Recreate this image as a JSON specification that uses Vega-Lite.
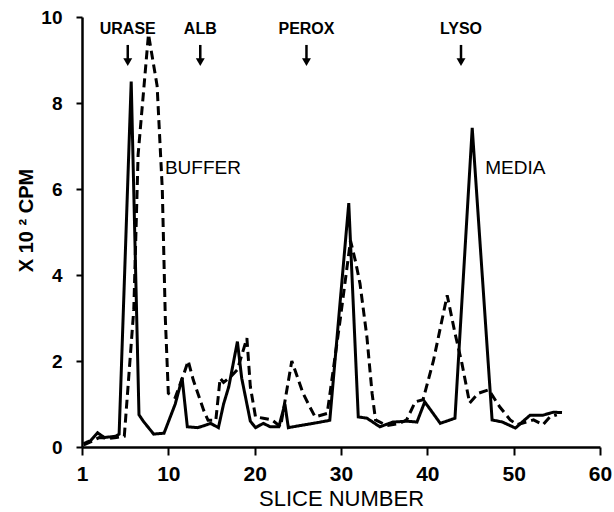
{
  "$schema": "https://vega.github.io/schema/vega-lite/v6.json",
  "autosize": {"type": "none"},
  "width": 518,
  "height": 430,
  "padding": {"left": 82, "top": 17, "right": 14, "bottom": 65},
  "background": "white",
  "config": {
    "view": {"stroke": null},
    "font": "Liberation Sans"
  },
  "datasets": {
    "curves": [
      {"series": "MEDIA", "slice": 0.2, "cpm": 0.08},
      {"series": "MEDIA", "slice": 1, "cpm": 0.15},
      {"series": "MEDIA", "slice": 1.8, "cpm": 0.33},
      {"series": "MEDIA", "slice": 2.6, "cpm": 0.22},
      {"series": "MEDIA", "slice": 3.9, "cpm": 0.25},
      {"series": "MEDIA", "slice": 4.3, "cpm": 0.3},
      {"series": "MEDIA", "slice": 5.7, "cpm": 8.5},
      {"series": "MEDIA", "slice": 6.6, "cpm": 0.75},
      {"series": "MEDIA", "slice": 7.1, "cpm": 0.6},
      {"series": "MEDIA", "slice": 8.3, "cpm": 0.3},
      {"series": "MEDIA", "slice": 9.5, "cpm": 0.32},
      {"series": "MEDIA", "slice": 10.8, "cpm": 1.0},
      {"series": "MEDIA", "slice": 11.6, "cpm": 1.6},
      {"series": "MEDIA", "slice": 12.2, "cpm": 0.47},
      {"series": "MEDIA", "slice": 13.4, "cpm": 0.45},
      {"series": "MEDIA", "slice": 14.2, "cpm": 0.5},
      {"series": "MEDIA", "slice": 14.9, "cpm": 0.55},
      {"series": "MEDIA", "slice": 15.8, "cpm": 0.45},
      {"series": "MEDIA", "slice": 16.4, "cpm": 1.0},
      {"series": "MEDIA", "slice": 17, "cpm": 1.4},
      {"series": "MEDIA", "slice": 18, "cpm": 2.45},
      {"series": "MEDIA", "slice": 18.5, "cpm": 1.6},
      {"series": "MEDIA", "slice": 19.5, "cpm": 0.6},
      {"series": "MEDIA", "slice": 20.1, "cpm": 0.45},
      {"series": "MEDIA", "slice": 21, "cpm": 0.55},
      {"series": "MEDIA", "slice": 21.8, "cpm": 0.47},
      {"series": "MEDIA", "slice": 22.8, "cpm": 0.47},
      {"series": "MEDIA", "slice": 23.5, "cpm": 1.0},
      {"series": "MEDIA", "slice": 23.9, "cpm": 0.45},
      {"series": "MEDIA", "slice": 25.3, "cpm": 0.5},
      {"series": "MEDIA", "slice": 26.8, "cpm": 0.55},
      {"series": "MEDIA", "slice": 28.7, "cpm": 0.62},
      {"series": "MEDIA", "slice": 30.9, "cpm": 5.67},
      {"series": "MEDIA", "slice": 32, "cpm": 0.7},
      {"series": "MEDIA", "slice": 33, "cpm": 0.67},
      {"series": "MEDIA", "slice": 34.5, "cpm": 0.47},
      {"series": "MEDIA", "slice": 36, "cpm": 0.58},
      {"series": "MEDIA", "slice": 37.6, "cpm": 0.6},
      {"series": "MEDIA", "slice": 38.8, "cpm": 0.58},
      {"series": "MEDIA", "slice": 39.7, "cpm": 1.05},
      {"series": "MEDIA", "slice": 41.5, "cpm": 0.55},
      {"series": "MEDIA", "slice": 43.2, "cpm": 0.67},
      {"series": "MEDIA", "slice": 45.2, "cpm": 7.42},
      {"series": "MEDIA", "slice": 47.5, "cpm": 0.63},
      {"series": "MEDIA", "slice": 48.7, "cpm": 0.58},
      {"series": "MEDIA", "slice": 50.2, "cpm": 0.44},
      {"series": "MEDIA", "slice": 51.9, "cpm": 0.74},
      {"series": "MEDIA", "slice": 53.4, "cpm": 0.74},
      {"series": "MEDIA", "slice": 54.6, "cpm": 0.81},
      {"series": "MEDIA", "slice": 55.6, "cpm": 0.8},
      {"series": "BUFFER", "slice": 0.2, "cpm": 0.05},
      {"series": "BUFFER", "slice": 1, "cpm": 0.12},
      {"series": "BUFFER", "slice": 2, "cpm": 0.22},
      {"series": "BUFFER", "slice": 3, "cpm": 0.2},
      {"series": "BUFFER", "slice": 4, "cpm": 0.22},
      {"series": "BUFFER", "slice": 4.9, "cpm": 0.25},
      {"series": "BUFFER", "slice": 6.0, "cpm": 3.2},
      {"series": "BUFFER", "slice": 6.5, "cpm": 6.8},
      {"series": "BUFFER", "slice": 7.7, "cpm": 9.6},
      {"series": "BUFFER", "slice": 8.7, "cpm": 8.4},
      {"series": "BUFFER", "slice": 9.3, "cpm": 6.0},
      {"series": "BUFFER", "slice": 9.65, "cpm": 3.0},
      {"series": "BUFFER", "slice": 10.0, "cpm": 1.25},
      {"series": "BUFFER", "slice": 10.8, "cpm": 1.15},
      {"series": "BUFFER", "slice": 11.8, "cpm": 1.7},
      {"series": "BUFFER", "slice": 12.3, "cpm": 2.0},
      {"series": "BUFFER", "slice": 12.9, "cpm": 1.55},
      {"series": "BUFFER", "slice": 14.1, "cpm": 0.85},
      {"series": "BUFFER", "slice": 14.6, "cpm": 0.62},
      {"series": "BUFFER", "slice": 15.5, "cpm": 0.62},
      {"series": "BUFFER", "slice": 16, "cpm": 1.6},
      {"series": "BUFFER", "slice": 16.4, "cpm": 1.5},
      {"series": "BUFFER", "slice": 17.2, "cpm": 1.63},
      {"series": "BUFFER", "slice": 18, "cpm": 1.8},
      {"series": "BUFFER", "slice": 19.1, "cpm": 2.53},
      {"series": "BUFFER", "slice": 19.5, "cpm": 1.4},
      {"series": "BUFFER", "slice": 20.1, "cpm": 0.7},
      {"series": "BUFFER", "slice": 21, "cpm": 0.67},
      {"series": "BUFFER", "slice": 22, "cpm": 0.63},
      {"series": "BUFFER", "slice": 23, "cpm": 0.47},
      {"series": "BUFFER", "slice": 24.3, "cpm": 2.0},
      {"series": "BUFFER", "slice": 25.6, "cpm": 1.25},
      {"series": "BUFFER", "slice": 26.4, "cpm": 0.93},
      {"series": "BUFFER", "slice": 27, "cpm": 0.7},
      {"series": "BUFFER", "slice": 28.4, "cpm": 0.78},
      {"series": "BUFFER", "slice": 29.9, "cpm": 2.95},
      {"series": "BUFFER", "slice": 31.1, "cpm": 4.8},
      {"series": "BUFFER", "slice": 31.7, "cpm": 4.3},
      {"series": "BUFFER", "slice": 32.2, "cpm": 3.8},
      {"series": "BUFFER", "slice": 33, "cpm": 2.56},
      {"series": "BUFFER", "slice": 33.6, "cpm": 1.25},
      {"series": "BUFFER", "slice": 34, "cpm": 0.63},
      {"series": "BUFFER", "slice": 35.3, "cpm": 0.5},
      {"series": "BUFFER", "slice": 36.8, "cpm": 0.55},
      {"series": "BUFFER", "slice": 37.6, "cpm": 0.63},
      {"series": "BUFFER", "slice": 38.6, "cpm": 1.05},
      {"series": "BUFFER", "slice": 39.5, "cpm": 1.1},
      {"series": "BUFFER", "slice": 40.7, "cpm": 2.0},
      {"series": "BUFFER", "slice": 42.3, "cpm": 3.53},
      {"series": "BUFFER", "slice": 43.2, "cpm": 2.65},
      {"series": "BUFFER", "slice": 44, "cpm": 1.95},
      {"series": "BUFFER", "slice": 44.9, "cpm": 1.02},
      {"series": "BUFFER", "slice": 45.9, "cpm": 1.25},
      {"series": "BUFFER", "slice": 47.1, "cpm": 1.33},
      {"series": "BUFFER", "slice": 48.4, "cpm": 0.93},
      {"series": "BUFFER", "slice": 49.6, "cpm": 0.63},
      {"series": "BUFFER", "slice": 50.4, "cpm": 0.52},
      {"series": "BUFFER", "slice": 52.3, "cpm": 0.63},
      {"series": "BUFFER", "slice": 53.4, "cpm": 0.52},
      {"series": "BUFFER", "slice": 54.2, "cpm": 0.7},
      {"series": "BUFFER", "slice": 55, "cpm": 0.75}
    ],
    "enzymes": [
      {"name": "URASE", "slice": 5.3, "top": 9.35, "bottom": 8.95},
      {"name": "ALB", "slice": 13.7, "top": 9.35, "bottom": 8.95},
      {"name": "PEROX", "slice": 26.0, "top": 9.35, "bottom": 8.95},
      {"name": "LYSO", "slice": 43.9, "top": 9.35, "bottom": 8.95}
    ],
    "names": [
      {"name": "BUFFER", "slice": 9.6, "cpm": 6.5},
      {"name": "MEDIA", "slice": 46.7, "cpm": 6.5}
    ]
  },
  "layer": [
    {
      "data": {"name": "curves"},
      "mark": {"type": "line", "strokeWidth": 3, "color": "black", "strokeJoin": "miter"},
      "encoding": {
        "x": {
          "field": "slice", "type": "quantitative",
          "scale": {"domain": [0, 60], "nice": false, "zero": false},
          "axis": {
            "values": [0, 10, 20, 30, 40, 50, 60],
            "labelExpr": "datum.value == 0 ? '1' : datum.label",
            "grid": false,
            "domainColor": "black", "domainWidth": 2.5,
            "tickColor": "black", "tickWidth": 2, "tickSize": 8,
            "labelColor": "black", "labelFont": "Liberation Sans", "labelFontSize": 21, "labelFontWeight": "bold",
            "labelPadding": 8, "labelFlush": false,
            "title": "SLICE NUMBER", "titleFont": "Liberation Sans", "titleFontSize": 22, "titleFontWeight": "normal",
            "titleColor": "black", "titlePadding": 4
          }
        },
        "y": {
          "field": "cpm", "type": "quantitative",
          "scale": {"domain": [0, 10], "nice": false},
          "axis": {
            "values": [0, 2, 4, 6, 8, 10],
            "grid": false,
            "domainColor": "black", "domainWidth": 2.5,
            "tickColor": "black", "tickWidth": 2, "tickSize": 6,
            "labelColor": "black", "labelFont": "Liberation Sans", "labelFontSize": 19, "labelFontWeight": "bold",
            "labelPadding": 14, "labelFlush": false,
            "title": "X 10 ² CPM", "titleFont": "Liberation Sans", "titleFontSize": 20, "titleFontWeight": "bold",
            "titleColor": "black", "titleX": -56, "titleY": 203, "titleBaseline": "middle", "titleAlign": "center", "titleAngle": 270
          }
        },
        "detail": {"field": "series"},
        "strokeDash": {
          "field": "series", "type": "nominal",
          "scale": {"domain": ["MEDIA", "BUFFER"], "range": [[1, 0], [9, 5]]},
          "legend": null
        }
      }
    },
    {
      "data": {"name": "enzymes"},
      "mark": {"type": "text", "font": "Liberation Sans", "fontSize": 16, "fontWeight": "bold", "color": "black", "baseline": "middle", "align": "center"},
      "encoding": {
        "x": {"field": "slice", "type": "quantitative"},
        "y": {"datum": 9.72, "type": "quantitative"},
        "text": {"field": "name"}
      }
    },
    {
      "data": {"name": "enzymes"},
      "mark": {"type": "rule", "strokeWidth": 2.5, "color": "black"},
      "encoding": {
        "x": {"field": "slice", "type": "quantitative"},
        "y": {"field": "top", "type": "quantitative"},
        "y2": {"field": "bottom"}
      }
    },
    {
      "data": {"name": "enzymes"},
      "mark": {"type": "point", "shape": "triangle-down", "filled": true, "size": 80, "color": "black", "opacity": 1},
      "encoding": {
        "x": {"field": "slice", "type": "quantitative"},
        "y": {"field": "bottom", "type": "quantitative"}
      }
    },
    {
      "data": {"name": "names"},
      "mark": {"type": "text", "font": "Liberation Sans", "fontSize": 19, "color": "black", "baseline": "middle", "align": "left"},
      "encoding": {
        "x": {"field": "slice", "type": "quantitative"},
        "y": {"field": "cpm", "type": "quantitative"},
        "text": {"field": "name"}
      }
    }
  ]
}
